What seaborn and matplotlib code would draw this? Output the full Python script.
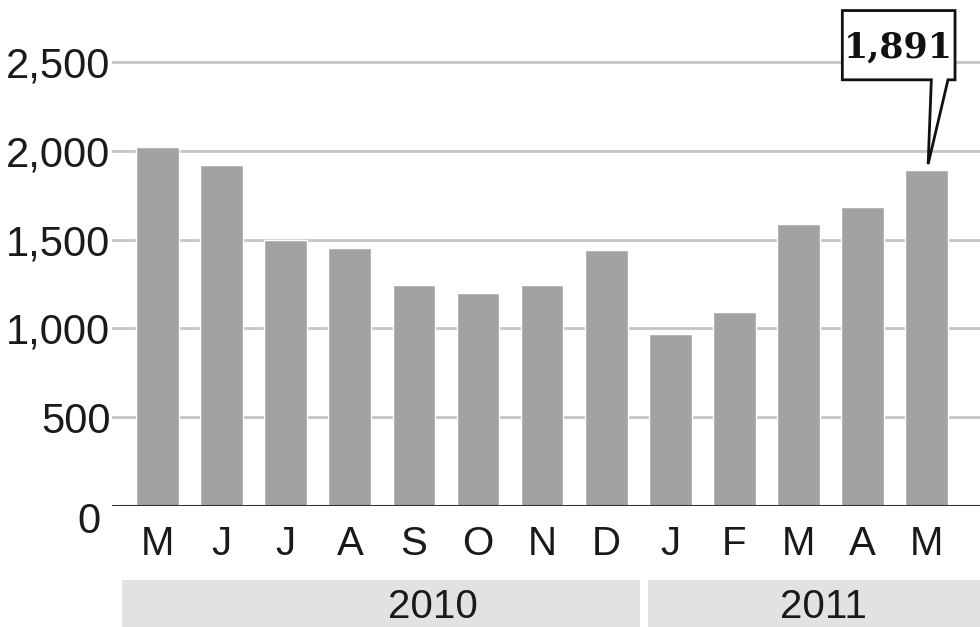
import matplotlib
matplotlib.use("Agg")
import matplotlib.pyplot as plt
import matplotlib.transforms as mtransforms
from matplotlib.patches import Polygon, Rectangle
import seaborn as sns
import pandas as pd

months = ["M", "J", "J", "A", "S", "O", "N", "D", "J", "F", "M", "A", "M"]
years = ["2010"] * 8 + ["2011"] * 5
values = [2022, 1921, 1497, 1455, 1245, 1200, 1245, 1442, 968, 1093, 1590, 1685, 1891]
yticks = [0, 500, 1000, 1500, 2000, 2500]
ytick_labels = ["0", "500", "1,000", "1,500", "2,000", "2,500"]
callout_label = "1,891"

sns.set_theme(style="white")
plt.rcParams["font.family"] = ["Liberation Sans", "DejaVu Sans"]

df = pd.DataFrame({"pos": [str(i) for i in range(len(values))], "month": months,
                   "year": years, "value": values})

fig = plt.figure(figsize=(9.8, 6.27), dpi=100)
ax = fig.add_axes([0.114, 0.193, 0.886, 0.793])

sns.barplot(data=df, x="pos", y="value", color="#a2a2a4", saturation=1,
            width=0.67, ax=ax, zorder=3)

ax.set_xlim(-0.72, 12.84)
ax.set_ylim(0, 2800)
ax.set_yticks(yticks)
ax.set_yticklabels(ytick_labels)
ax.set_xticks(range(len(months)))
ax.set_xticklabels(months)
ax.tick_params(axis="y", length=0, pad=1, labelsize=30, labelcolor="#1a1a1a")
ax.tick_params(axis="x", length=0, pad=14, labelsize=29, labelcolor="#1a1a1a")
# the zero label sits slightly lower in the original
zero_lbl = ax.get_yticklabels()[0]
zero_lbl.set_transform(zero_lbl.get_transform() +
                       mtransforms.ScaledTranslation(-0.1, -0.12, fig.dpi_scale_trans))
ax.set_xlabel("")
ax.set_ylabel("")
for s in ax.spines.values():
    s.set_visible(False)

for t in yticks[1:]:
    ax.axhline(t, color="#c4c4c4", lw=2, zorder=1)
ax.axhline(0, color="#333333", lw=2.2, zorder=4)

# year bands below axis
trans = mtransforms.blended_transform_factory(ax.transData, ax.transAxes)
bands = [("2010", -0.56, 7.53, 4.3), ("2011", 7.66, 12.84, 10.4)]
for label, x0, x1, xc in bands:
    ax.add_patch(Rectangle((x0, -0.149), x1 - x0, -0.1, transform=trans,
                           facecolor="#e2e2e2", edgecolor="none", clip_on=False))
    ax.text(xc, -0.203, label, transform=trans, ha="center", va="center",
            fontsize=29, color="#1a1a1a", clip_on=False)

# callout
bx0, bx1, by0, by1 = 10.69, 12.45, 2400, 2790
tail_l, tail_r = 12.08, 12.34
tip_x, tip_y = 12.03, 1925
poly = Polygon([(bx0, by0), (bx0, by1), (bx1, by1), (bx1, by0), (tail_r, by0),
                (tip_x, tip_y), (tail_l, by0)], closed=True, facecolor="white",
               edgecolor="#111111", lw=2, zorder=6, clip_on=False)
ax.add_patch(poly)
ax.text((bx0 + bx1) / 2, (by0 + by1) / 2 - 15, callout_label, ha="center", va="center",
        fontsize=25, fontweight="bold", family=["DejaVu Serif"], color="#111111",
        zorder=7)

fig.savefig("out.png", dpi=100)
